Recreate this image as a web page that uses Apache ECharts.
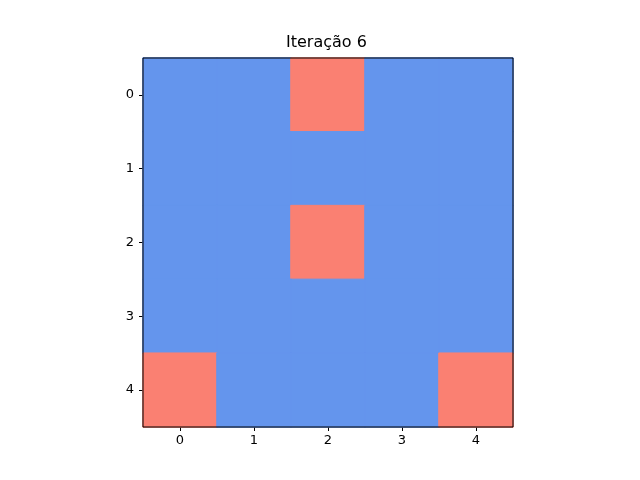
<!DOCTYPE html>
<html lang="pt">
<head>
    <meta charset="UTF-8">
    <title>Iteração 6</title>
    <script src="https://cdn.jsdelivr.net/npm/echarts@6/dist/echarts.min.js"></script>
    <style>
        html, body { margin: 0; padding: 0; background: #fff; }
        #grid { width: 640px; height: 480px; }
    </style>
</head>
<body>
<div id="grid"></div>
<script>
    var titleText = 'Iteração 6';
    var colLabels = ['0', '1', '2', '3', '4'];
    var rowLabels = ['0', '1', '2', '3', '4'];
    // estado das células: 0 = azul, 1 = salmão
    var row0 = [0, 0, 1, 0, 0];
    var row1 = [0, 0, 0, 0, 0];
    var row2 = [0, 0, 1, 0, 0];
    var row3 = [0, 0, 0, 0, 0];
    var row4 = [1, 0, 0, 0, 1];
    var rows = [row0, row1, row2, row3, row4];
    var stateColors = ['#6495ED', '#FA8072'];

    var cells = [];
    rows.forEach(function (row, r) {
        row.forEach(function (v, c) {
            var col = stateColors[v];
            cells.push({
                value: [c, r, v],
                itemStyle: { color: col, borderColor: col, borderWidth: 1 }
            });
        });
    });

    var font = 'DejaVu Sans';
    var chart = echarts.init(document.getElementById('grid'));
    chart.setOption({
        animation: false,
        title: {
            text: titleText,
            left: 286,
            top: 35,
            padding: 0,
            textStyle: { fontFamily: font, fontSize: 16, fontWeight: 'normal', color: '#000' }
        },
        grid: {
            left: 143, top: 58, width: 370, height: 369,
            show: true, borderColor: '#000', borderWidth: 1, backgroundColor: 'transparent',
            z: 5
        },
        xAxis: {
            type: 'category',
            data: colLabels,
            axisLine: { show: false },
            axisTick: { show: true, alignWithLabel: true, length: 4, lineStyle: { color: '#000' } },
            axisLabel: { fontFamily: font, fontSize: 13, color: '#000', margin: 7 },
            splitLine: { show: false }
        },
        yAxis: {
            type: 'category',
            data: rowLabels,
            inverse: true,
            axisLine: { show: false },
            axisTick: { show: true, alignWithLabel: true, length: 4, lineStyle: { color: '#000' } },
            axisLabel: { fontFamily: font, fontSize: 13, color: '#000', margin: 9 },
            splitLine: { show: false }
        },
        series: [{
            type: 'heatmap',
            data: cells,
            z: 1
        }]
    });
</script>
</body>
</html>
